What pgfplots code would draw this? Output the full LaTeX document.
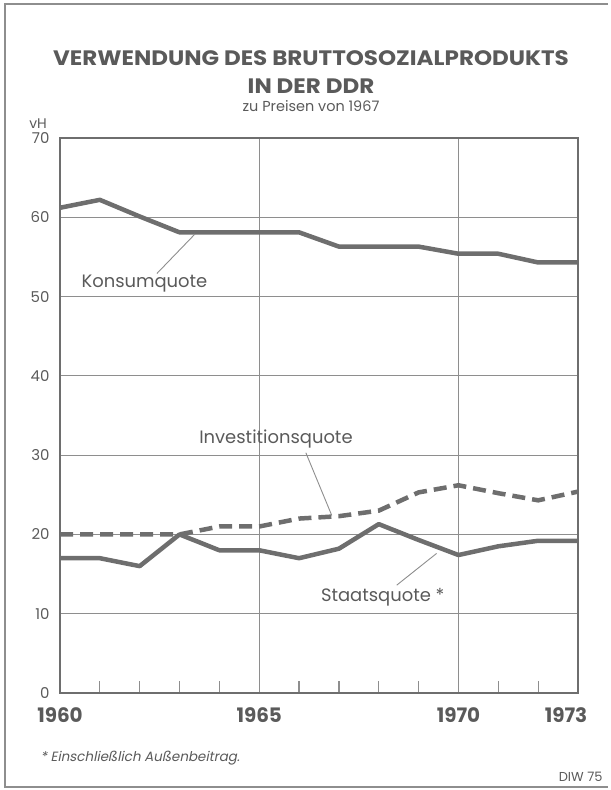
\documentclass[border=0pt]{standalone}
\usepackage{pgfplots}
\pgfplotsset{compat=1.18}
\usepackage{graphicx}
\usepackage{fontspec}
\setmainfont{Poppins}
\newfontfamily\footfont{Poppins}[FakeSlant=0.2]
\definecolor{ink}{HTML}{5A5A5A}
\definecolor{lin}{HTML}{6E6E6E}
\definecolor{grd}{HTML}{8E8E8E}

\pgfplotstableread{
year konsum invest staat
1960 61.2 20.0 17.0
1961 62.2 20.0 17.0
1962 60.1 20.0 16.0
1963 58.1 20.0 20.0
1964 58.1 21.0 18.0
1965 58.1 21.0 18.0
1966 58.1 22.0 17.0
1967 56.3 22.3 18.2
1968 56.3 23.0 21.3
1969 56.3 25.3 19.3
1970 55.4 26.2 17.4
1971 55.4 25.2 18.5
1972 54.3 24.3 19.2
1973 54.3 25.4 19.2
}\datatable

\begin{document}
\begin{tikzpicture}[x=1bp,y=1bp]
\useasboundingbox (0,0) rectangle (611,790);
\draw[grd, line width=1.2bp] (608,786) -- (5,786) -- (5,3) -- (608,3);

\node[ink, font=\bfseries\fontsize{21}{21}\selectfont] at (311,732) {\scalebox{1.1}[1]{VERWENDUNG DES BRUTTOSOZIALPRODUKTS}};
\node[ink, font=\bfseries\fontsize{21}{21}\selectfont] at (311,704) {\scalebox{1.1}[1]{IN DER DDR}};
\node[ink, font=\fontsize{14.5}{14.5}\selectfont] at (311,684) {zu Preisen von 1967};
\node[ink, font=\fontsize{14}{14}\selectfont] at (38,666) {vH};

\begin{axis}[
  at={(60bp,97bp)}, anchor=south west, scale only axis,
  width=518bp, height=555bp,
  xmin=1960, xmax=1973, ymin=0, ymax=70,
  xtick={1960,1965,1970,1973},
  xticklabels={1960,1965,1970,\hspace*{-24bp}1973},
  minor xtick={1961,1962,1963,1964,1966,1967,1968,1969,1971,1972},
  ytick={0,10,20,30,40,50,60,70},
  yticklabels={0,10,20,30,40,50,60,70},
  xtick pos=bottom, ytick pos=left,
  tick align=inside,
  major tick length=0pt, minor tick length=12bp,
  minor tick style={grd, line width=1.2bp},
  grid=major,
  major grid style={grd, line width=1.1bp},
  axis line style={lin, line width=1.8bp},
  xticklabel style={ink, font=\bfseries\fontsize{20}{20}\selectfont, yshift=-11bp},
  yticklabel style={ink, font=\fontsize{15}{15}\selectfont, xshift=-7bp},
  clip=false,
]
\addplot[lin, line width=4.5bp, line join=round] table[x=year, y=konsum] {\datatable};
\addplot[lin, line width=4.5bp, dash pattern=on 13bp off 7bp] table[x=year, y=invest] {\datatable};
\addplot[lin, line width=4.5bp, line join=round] table[x=year, y=staat] {\datatable};

\draw[grd, line width=0.9bp] (axis cs:1963.39,57.9) -- (axis cs:1962.43,52.9);
\node[ink, font=\fontsize{18}{18}\selectfont] at (axis cs:1962.12,51.6) {Konsumquote};
\draw[grd, line width=0.9bp] (axis cs:1966.17,30.3) -- (axis cs:1966.82,22.4);
\node[ink, font=\fontsize{18}{18}\selectfont] at (axis cs:1965.42,32.0) {Investitionsquote};
\draw[grd, line width=0.9bp] (axis cs:1968.45,13.6) -- (axis cs:1969.45,17.6);
\node[ink, font=\fontsize{18}{18}\selectfont] at (axis cs:1968.1,12.1) {Staatsquote *};
\end{axis}

\node[ink, anchor=west, font=\footfont\fontsize{13.5}{13.5}\selectfont] at (37,32) {* Einschließlich Außenbeitrag.};
\node[ink, anchor=east, font=\fontsize{13}{13}\selectfont] at (606,13) {DIW 75};
\end{tikzpicture}
\end{document}
